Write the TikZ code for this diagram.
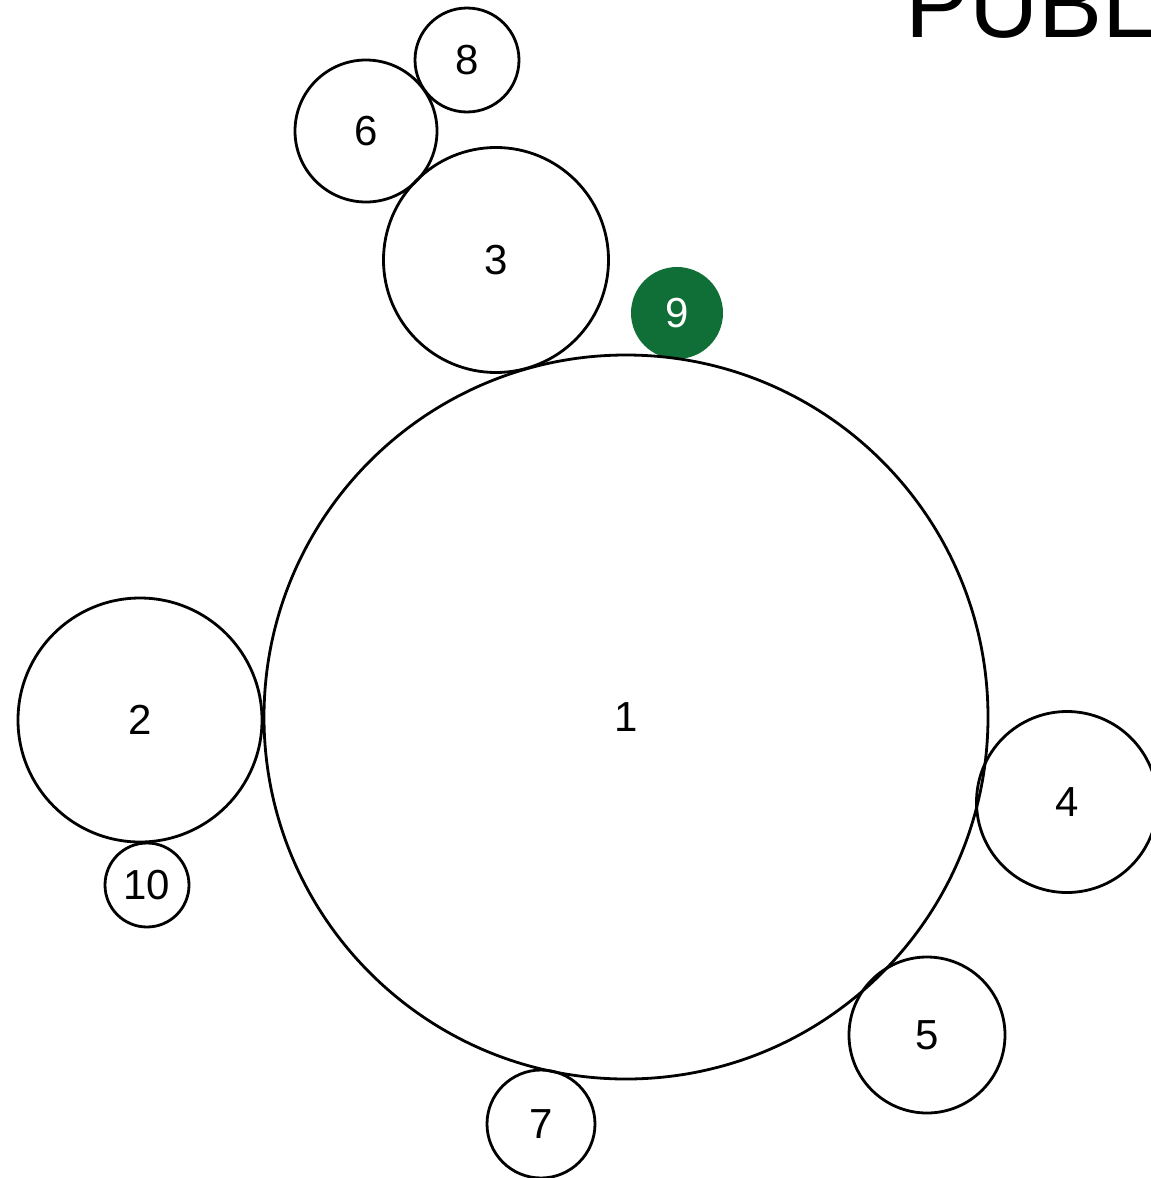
\documentclass[tikz,border=0pt]{standalone}
\usepackage{fontspec}
\setmainfont{Liberation Sans}
\definecolor{dgreen}{RGB}{16,110,55}
\begin{document}
\begin{tikzpicture}[x=1pt,y=-1pt,
  bub/.style={circle,draw=black,line width=2.8pt,inner sep=0pt,font=\fontsize{42}{44}\selectfont},
  gbub/.style={circle,fill=dgreen,text=white,inner sep=0pt,font=\fontsize{42}{44}\selectfont}]
\useasboundingbox (0,0) rectangle (1151,1178);
\clip (0,0) rectangle (1151,1178);
\node[gbub,minimum size=92pt] (n9) at (677,313) {9};
\node[bub,minimum size=724pt] (n1) at (626,717) {1};
\node[bub,minimum size=244pt] (n2) at (140,720) {2};
\node[bub,minimum size=225pt] (n3) at (496,260) {3};
\node[bub,minimum size=181pt] (n4) at (1067,802) {4};
\node[bub,minimum size=156pt] (n5) at (927,1035) {5};
\node[bub,minimum size=142pt] (n6) at (366,131) {6};
\node[bub,minimum size=108pt] (n7) at (541,1124) {7};
\node[bub,minimum size=104pt] (n8) at (467,60) {8};
\node[bub,minimum size=84pt] (n10) at (147,885) {10};
\node[anchor=base west,inner sep=0pt,font=\fontsize{96}{100}\selectfont] (title) at (905,37) {PUBL};
\end{tikzpicture}
\end{document}
